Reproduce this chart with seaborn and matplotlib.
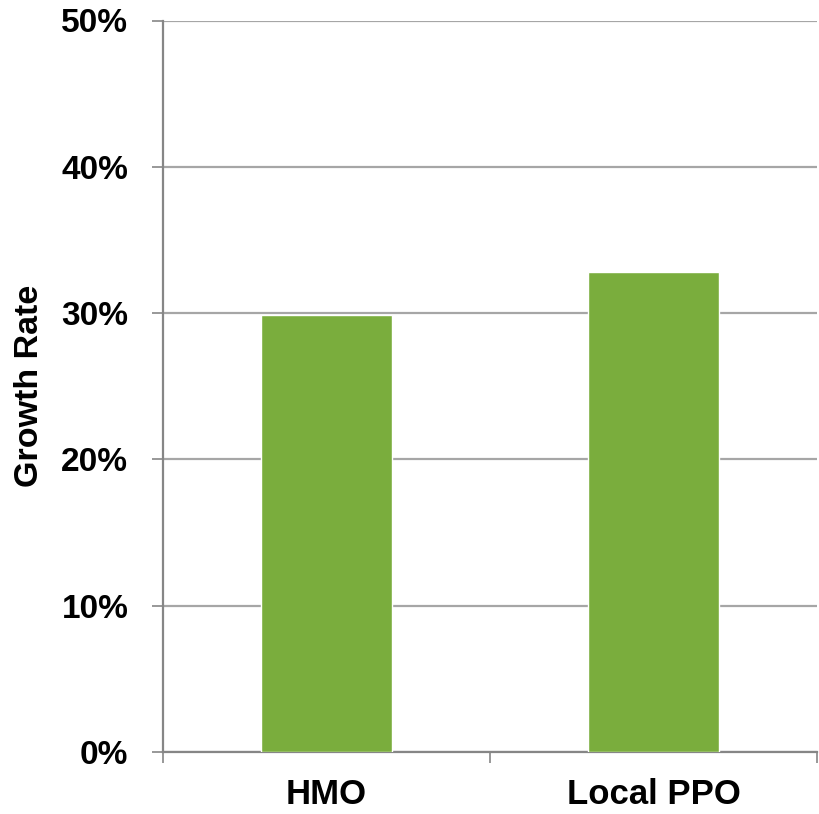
import matplotlib
matplotlib.use("Agg")
import matplotlib.pyplot as plt
from matplotlib.ticker import FuncFormatter, FixedLocator
import seaborn as sns
import pandas as pd

# Growth rate by plan type
plan_types = ["HMO", "Local PPO"]
growth_rates = [29.9, 32.8]
y_ticks = [0, 10, 20, 30, 40, 50]

df = pd.DataFrame({"plan": plan_types, "rate": growth_rates})

sns.set_theme(style="white")
plt.rcParams["font.family"] = ["Liberation Sans", "DejaVu Sans"]
plt.rcParams["font.weight"] = "bold"

fig = plt.figure(figsize=(8.19, 8.14), dpi=100)
ax = fig.add_axes([163 / 819, 1 - 752 / 814, (817 - 163) / 819, (752 - 20.5) / 814])

sns.barplot(data=df, x="plan", y="rate", color="#7AAD3D", width=0.4,
            saturation=1, ax=ax, zorder=3)

ax.set_ylim(0, 50)
ax.set_xlim(-0.5, 1.5)
ax.set_yticks(y_ticks)
ax.yaxis.set_major_formatter(FuncFormatter(lambda v, _: f"{v:.0f}%"))
ax.grid(axis="y", color="#A6A6A6", linewidth=1.6, zorder=0)
ax.set_axisbelow(True)

# category boundaries carry the x tick marks
ax.xaxis.set_major_locator(FixedLocator([-0.5, 0.5, 1.5]))
ax.xaxis.set_minor_locator(FixedLocator([0, 1]))
ax.set_xticklabels(["", "", ""])
ax.set_xticklabels(plan_types, minor=True)
ax.tick_params(axis="x", which="major", direction="out", length=8, width=1.2,
               color="#868686", bottom=True)
ax.tick_params(axis="x", which="minor", length=0, pad=19, labelsize=25)
ax.tick_params(axis="y", direction="out", length=8, width=1.2,
               color="#868686", left=True, labelsize=24, pad=17)
for lbl in ax.get_xticklabels(minor=True) + ax.get_yticklabels():
    lbl.set_fontweight("bold")
    lbl.set_color("black")

for side in ["top", "right"]:
    ax.spines[side].set_visible(False)
for side in ["left", "bottom"]:
    ax.spines[side].set_color("#868686")
    ax.spines[side].set_linewidth(1.6)

ax.set_xlabel("")
ax.set_ylabel("Growth Rate", fontsize=24.5, fontweight="bold", color="black", labelpad=12)

fig.savefig("out.png", dpi=100)
